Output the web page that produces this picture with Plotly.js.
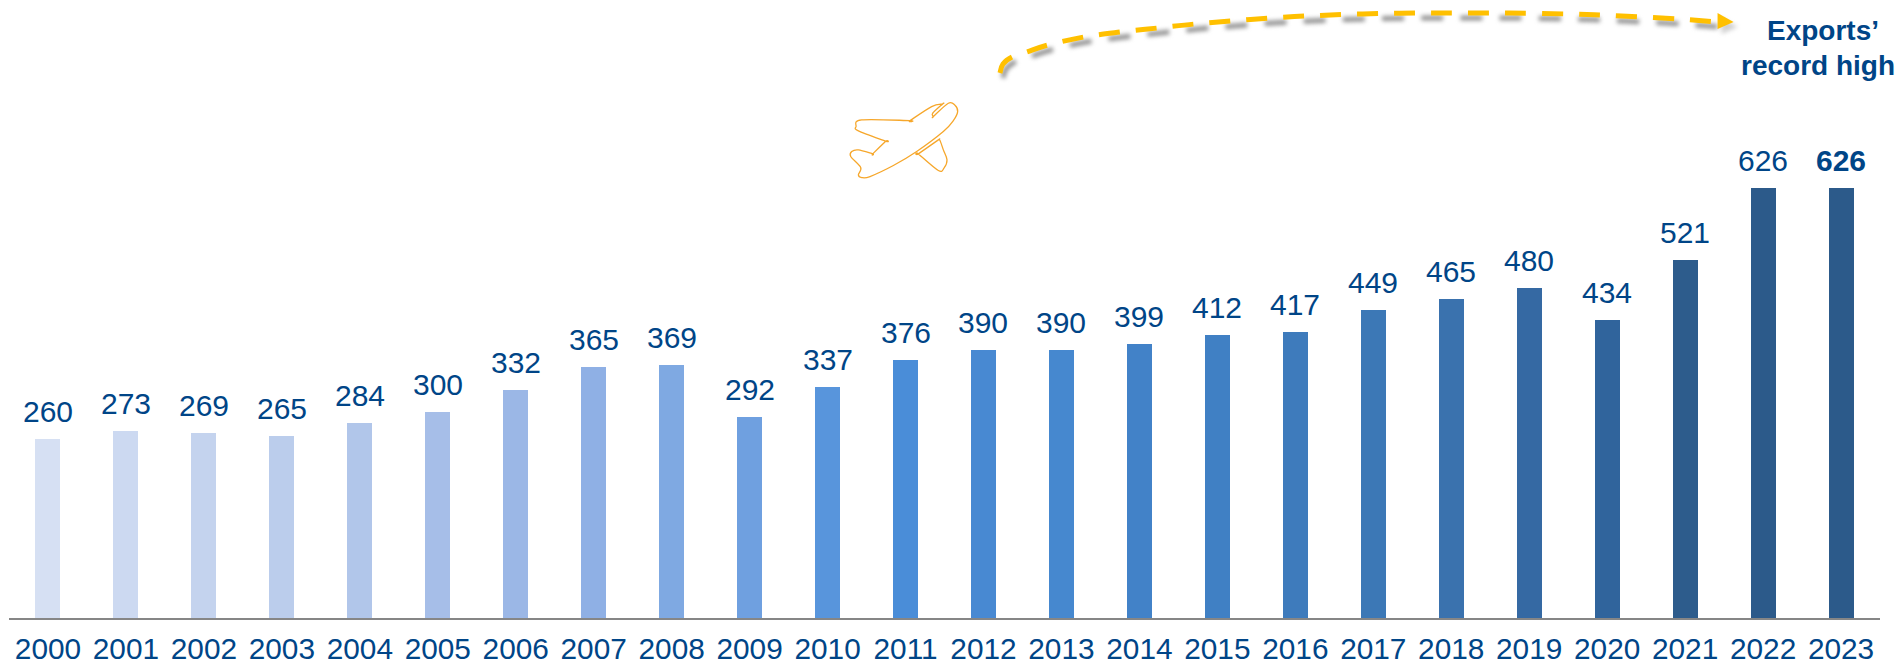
<!DOCTYPE html>
<html><head><meta charset="utf-8">
<script src="https://cdn.plot.ly/plotly-3.0.0.min.js"></script>
<style>html,body{margin:0;padding:0;background:#fff}#c{width:1898px;height:665px}</style>
</head><body><div id="c"></div>
<script>
const years=['2000','2001','2002','2003','2004','2005','2006','2007','2008','2009','2010','2011','2012','2013','2014','2015','2016','2017','2018','2019','2020','2021','2022','2023'];
const exportsValues=[260,273,269,265,284,300,332,365,369,292,337,376,390,390,399,412,417,449,465,480,434,521,626,626];
const barColors=['#D6E0F3','#CCD9F1','#C4D3EE','#BBCDEC','#B1C6EA','#A6BEE8','#9BB7E6','#8FB0E5','#7FA9E2','#6FA0E0','#5895DC','#4A8DD8','#4889D2','#4688CF','#4282C8','#4080C4','#3E7BBC','#3C78B6','#3A72AE','#3569A3','#30649C','#2D5C8C','#2C5A8A','#2C5A8A'];
const labels=exportsValues.map((v,i)=>i===23?'<b>'+v+'</b>':String(v));
const W=1872,H=618.5,L=8.5;
const px=x=>((x-L)/W).toFixed(5), py=y=>((H-y)/H).toFixed(5);
const poly=(pts,close)=>'M'+pts.map(p=>px(p[0])+','+py(p[1])).join(' L')+(close?' Z':'');
function smooth(pts,close){
  const n=pts.length; let d='M'+px(pts[0][0])+','+py(pts[0][1]);
  const g=i=>close?pts[(i+n)%n]:pts[Math.max(0,Math.min(n-1,i))];
  const m=close?n:n-1;
  for(let i=0;i<m;i++){
    const p0=g(i-1),p1=g(i),p2=g(i+1),p3=g(i+2);
    const c1=[p1[0]+(p2[0]-p0[0])/6,p1[1]+(p2[1]-p0[1])/6],c2=[p2[0]-(p3[0]-p1[0])/6,p2[1]-(p3[1]-p1[1])/6];
    d+=' C'+px(c1[0])+','+py(c1[1])+' '+px(c2[0])+','+py(c2[1])+' '+px(p2[0])+','+py(p2[1]);
  }
  return d+(close?' Z':'');
}
const curve=[[1000,73],[1003,64],[1012,57],[1027,52],[1048,45],[1084,37],[1121,32],[1158,28],[1195,24],[1232,21],[1270,18],[1307,16],[1344,14.5],[1382,13.5],[1419,13],[1457,13],[1510,13],[1568,14],[1622,16],[1680,19],[1718,22]];
const z=(a)=>a.map(p=>[800+p[0]/3,p[1]/3]);
const plane=z([[445,310],[465,316],[473,335],[460,362],[430,395],[350,455],[280,497],[210,530],[185,533],[175,525],[182,503],[152,470],[155,455],[175,450],[218,462],[218,462],[257,424],[257,424],[175,393],[168,380],[185,360],[330,362],[330,362],[395,320],[428,312],[428,312],[398,340],[400,350],[400,350]]);
const wing=z([[415,420],[415,420],[355,462],[355,462],[415,512],[432,505],[441,480],[430,450],[420,422]]);
const shadow=curve.map(p=>[p[0]+3,p[1]+5]);
const shapes=[
 {type:'path',xref:'paper',yref:'paper',path:smooth(shadow),line:{color:'rgba(120,120,120,0.8)',width:5,dash:'22px,17.2px'},layer:'above'},
 {type:'path',xref:'paper',yref:'paper',path:poly([[1722,18],[1722,34],[1738,27]],true),fillcolor:'rgba(120,120,120,0.35)',line:{width:0},layer:'above'},
 {type:'path',xref:'paper',yref:'paper',path:smooth(curve),line:{color:'#FFC000',width:5,dash:'21px,16px'},layer:'above'},
 {type:'path',xref:'paper',yref:'paper',path:poly([[1718,13],[1718,29],[1734,22]],true),fillcolor:'#FFC000',line:{width:0},layer:'above'},
 {type:'path',xref:'paper',yref:'paper',path:smooth(plane,true),line:{color:'#F6A72B',width:1.3},layer:'above'},
 {type:'path',xref:'paper',yref:'paper',path:smooth(wing,true),line:{color:'#F6A72B',width:1.3},layer:'above'}
];
const font='Liberation Sans, Arial, sans-serif';
const data=[{type:'bar',x:years,y:exportsValues,width:25/78,marker:{color:barColors,line:{width:0}},hoverinfo:'skip'}];
const valueLabels=years.map((yr,i)=>({x:i,y:exportsValues[i],xref:'x',yref:'y',xanchor:'center',yanchor:'bottom',yshift:9,showarrow:false,text:labels[i],font:{family:font,size:30,color:'#004587'}}));
const layout={width:1898,height:665,margin:{l:L,r:1898-L-W,t:0,b:665-H,pad:0},
  paper_bgcolor:'#fff',plot_bgcolor:'#fff',showlegend:false,bargap:0,
  xaxis:{type:'category',range:[-0.5,23.5],showgrid:false,zeroline:false,showline:true,linecolor:'#868686',linewidth:2,ticks:'outside',ticklen:3,tickcolor:'rgba(0,0,0,0)',tickangle:0,
    tickfont:{family:font,size:29.8,color:'#004587'},automargin:false},
  yaxis:{range:[0,900],visible:false,fixedrange:true},
  shapes:shapes,
  annotations:valueLabels.concat([
   {xref:'paper',yref:'paper',x:+px(1823),y:+py(31),xanchor:'center',yanchor:'middle',showarrow:false,text:'<b>Exports’</b>',font:{family:font,size:28,color:'#004587'}},
   {xref:'paper',yref:'paper',x:+px(1818),y:+py(66),xanchor:'center',yanchor:'middle',showarrow:false,text:'<b>record high</b>',font:{family:font,size:28,color:'#004587'}}
  ])
};
Plotly.newPlot('c',data,layout,{displayModeBar:false,staticPlot:true}).then(()=>{
  const p=document.querySelectorAll('#c .shapelayer path');
  if(p[0])p[0].style.filter='blur(2px)';
  if(p[1])p[1].style.filter='blur(2px)';
});
</script></body></html>
